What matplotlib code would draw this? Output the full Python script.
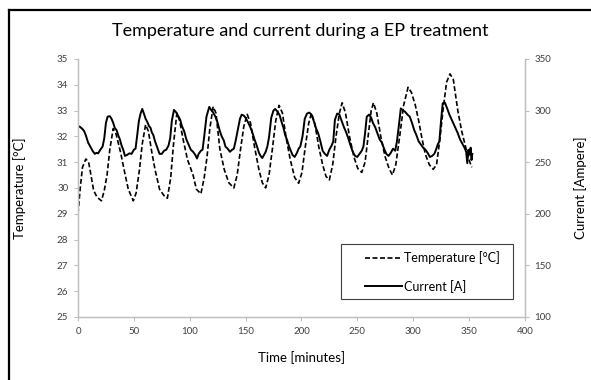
"""Temperature and current during an EP treatment, dual-axis line chart."""
import matplotlib
matplotlib.use("Agg")
import matplotlib.pyplot as plt
from matplotlib.lines import Line2D
from matplotlib.patches import Rectangle

plt.rcParams["font.family"] = ["Lato", "DejaVu Sans"]

# temperature trace (left axis)
TEMP_T = [0, 2, 4, 7, 9.5, 12, 14, 17, 21, 23.5, 26, 28.5, 31.5, 34, 38, 42, 45, 49.5,
          52, 55, 57.5, 60.5, 63, 66, 69, 73, 77, 80, 83, 85.5, 88.5, 91, 94, 98, 103,
          106, 110, 113, 115.5, 118, 121, 123.5, 127, 131, 135, 139.5, 142.5, 145.5,
          148.5, 151.5, 154.5, 158, 162, 165, 168, 171, 174, 177, 180, 183, 186.5, 190,
          194, 197.5, 200.5, 203.5, 206.5, 209, 212, 215.5, 219, 222, 225, 228, 231,
          234, 236.5, 239.5, 243, 247, 250.5, 254, 257, 260, 262.5, 264.5, 267.5, 271,
          275, 278.5, 281.5, 284.5, 288, 291.5, 295.5, 298.5, 302, 305, 308, 311, 314.5,
          318, 321, 324, 327, 330, 333, 336, 340, 343.5, 347.5, 350, 352.5]
TEMP_C = [29.0, 30.0, 30.8, 31.12, 31.0, 30.4, 29.9, 29.64, 29.5, 29.9, 30.5, 31.5, 32.3,
          32.1, 31.4, 30.55, 29.95, 29.5, 29.8, 30.7, 31.7, 32.45, 32.2, 31.4, 30.7,
          29.95, 29.7, 29.6, 30.4, 31.7, 32.9, 32.6, 31.9, 31.1, 30.5, 29.95, 29.77,
          30.4, 31.2, 32.3, 33.15, 32.9, 31.5, 30.7, 30.2, 30.0, 30.5, 31.5, 32.4, 32.85,
          32.5, 31.6, 30.7, 30.2, 30.0, 30.5, 31.5, 32.6, 33.2, 32.9, 31.9, 31.1, 30.4,
          30.18, 30.6, 31.6, 32.5, 32.9, 32.5, 31.6, 30.9, 30.45, 30.31, 30.9, 32.0,
          32.9, 33.3, 32.9, 32.0, 31.2, 30.75, 30.6, 31.0, 32.1, 33.0, 33.3, 32.9, 32.0,
          31.2, 30.75, 30.5, 30.9, 32.0, 33.2, 33.9, 33.7, 33.2, 32.6, 31.9, 31.3, 30.9,
          30.72, 30.9, 31.9, 33.1, 34.1, 34.42, 34.2, 33.0, 32.2, 31.5, 31.1, 30.8]

# current trace (right axis)
CUR_T = [0, 2, 4, 5.5, 7, 9, 11, 13, 15, 16.5, 18, 20, 22, 23.5, 25, 26.5, 28.5, 30,
         31.5, 33, 34.5, 36, 37.5, 39, 40.5, 42, 44, 46, 48, 50, 51.5, 53, 54.5, 56,
         57.5, 59, 60.5, 62, 63.5, 65, 66, 67.5, 69, 71, 73, 75, 77, 79, 81, 82.5, 84,
         85.9, 88, 90, 91.5, 93, 95, 97, 99, 101, 103, 105, 106.5, 108, 110, 111.5, 113,
         115, 117.5, 119.5, 121, 123, 125, 127, 128.6, 130.5, 132, 134, 136, 138, 139.5,
         141, 143, 145, 146.5, 148.5, 150, 152, 154, 156, 158, 160, 162, 163.5, 165,
         166.5, 168, 169.5, 171, 173, 175, 176.5, 178.5, 180.5, 182.5, 184, 185.5, 187,
         189, 190.5, 192, 194, 196, 197.5, 199, 201, 203, 205, 207, 209, 211, 213, 215,
         217, 219, 221, 223, 225, 227, 228.5, 230, 232, 234, 236, 238, 240, 242, 244,
         246, 248, 250, 252, 254, 255.5, 257, 258.5, 260.5, 262.5, 264, 266, 268, 270,
         272, 274, 276, 278, 280, 282, 284, 285.5, 287, 289, 291, 292.6, 295, 297, 299,
         301, 303, 305, 307, 309, 311, 313, 315, 317, 319, 320.5, 322, 323.5, 325,
         326.5, 328.5, 330.5, 332.5, 335, 337.5, 340, 342, 344, 346, 347.5, 348.5,
         349.5, 350.8, 351.5, 352.3, 353]
CUR_A = [285, 284, 282, 280, 276, 269, 265, 261, 258, 259, 258.5, 262, 265, 273, 288,
         294, 294.5, 292, 288, 283, 281, 276, 272, 266, 262, 256, 257, 258.5, 258, 262,
         263, 276, 290, 297, 301.5, 297, 292, 289, 285, 283, 279, 276, 270, 264, 258,
         258, 261, 262, 266, 273, 290, 300.6, 298, 294, 291, 285, 280, 272, 267, 262,
         260, 257, 253.5, 258, 261, 262, 275, 294, 303.5, 300, 298, 294, 288, 280, 275,
         271, 265, 263, 260, 262, 263, 270, 281, 292, 296, 295, 293, 289, 284.5, 279,
         272, 266, 259, 256, 254, 257, 260, 265, 274, 293, 300, 301.5, 299, 295.5, 288,
         283, 276, 272, 265, 261, 257, 255, 259, 263, 265, 275, 292, 297, 298, 296, 290,
         283, 278, 270, 261, 258, 256, 262, 266, 270, 291, 297, 296, 290, 284, 279, 273,
         266, 260, 256, 255, 258, 261, 265, 278, 294, 296, 293, 288, 284, 278, 272, 269,
         263, 258, 256, 259, 263, 261, 270, 283, 302, 300, 299, 296, 294, 288, 281, 276,
         270, 267, 264, 262, 259, 255, 256, 258, 262, 267, 270, 290, 307, 307.5, 302,
         296, 290, 284, 278, 272, 268, 264, 260, 249, 262, 257, 264, 252, 258]

X_TICKS = [0, 50, 100, 150, 200, 250, 300, 350, 400]
TEMP_TICKS = [25, 26, 27, 28, 29, 30, 31, 32, 33, 34, 35]
CUR_TICKS = [100, 150, 200, 250, 300, 350]

AXIS_GREY = "#bfbfbf"
TICK_TEXT = "#404040"
TEMP_DASH = (0, (3, 1.5))


def plot(output: str) -> None:
    fig = plt.figure(figsize=(5.91, 3.80), dpi=100)
    ax1 = fig.add_axes([0.132, 0.166, 0.756, 0.679])
    ax2 = ax1.twinx()

    ax1.plot(TEMP_T, TEMP_C, color="black", lw=1.2, ls=TEMP_DASH)
    ax2.plot(CUR_T, CUR_A, color="black", lw=1.4)

    ax1.set_xlim(0, 400)
    ax1.set_ylim(25, 35)
    ax2.set_ylim(100, 350)
    ax1.set_xticks(X_TICKS)
    ax1.set_yticks(TEMP_TICKS)
    ax2.set_yticks(CUR_TICKS)

    for ax in (ax1, ax2):
        ax.spines["top"].set_visible(False)
        for side in ("left", "right", "bottom"):
            ax.spines[side].set_color(AXIS_GREY)
            ax.spines[side].set_linewidth(0.9)
        ax.tick_params(colors=AXIS_GREY, labelcolor=TICK_TEXT, labelsize=7,
                       length=3, width=0.8, pad=4)

    ax1.set_xlabel("Time [minutes]", fontsize=9.5, labelpad=11)
    ax1.set_ylabel("Temperature [°C]", fontsize=9.5, labelpad=22)
    ax2.set_ylabel("Current [Ampere]", fontsize=9.5, labelpad=16)
    fig.text(0.508, 0.918, "Temperature and current during a EP treatment",
             ha="center", va="center", fontsize=13)

    # legend: entries without frame, box drawn separately (Excel-style padding)
    handles = [Line2D([], [], color="black", lw=1.2, ls=TEMP_DASH),
               Line2D([], [], color="black", lw=1.4)]
    ax1.legend(handles, ["Temperature [°C]", "Current [A]"],
               loc="upper left", bbox_to_anchor=(0.642, 0.255),
               fontsize=9, frameon=False, handlelength=3.0, handletextpad=0.1,
               labelspacing=1.25, borderpad=0, borderaxespad=0)
    ax1.add_patch(Rectangle((0.588, 0.069), 0.385, 0.213, transform=ax1.transAxes,
                            fill=False, edgecolor="#404040", lw=0.8, zorder=5))

    # chart-area border (only top and left edge are inside the crop)
    fig.add_artist(Line2D([8.5 / 591, 8.5 / 591], [0, 1 - 9.5 / 380],
                          transform=fig.transFigure, color="black", lw=1.6))
    fig.add_artist(Line2D([8.5 / 591, 1], [1 - 9.5 / 380, 1 - 9.5 / 380],
                          transform=fig.transFigure, color="black", lw=1.6))

    fig.savefig(output, dpi=100)
    print(f"Saved to {output}")


def main():
    plot("out.png")


if __name__ == "__main__":
    main()
